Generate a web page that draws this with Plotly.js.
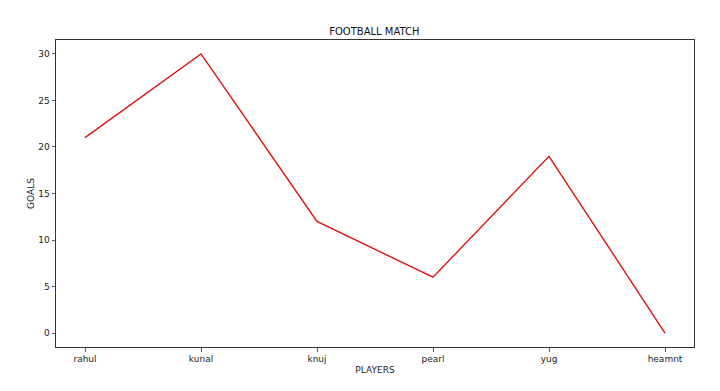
<!DOCTYPE html>
<html>
<head>
<meta charset="utf-8">
<script src="https://cdn.plot.ly/plotly-3.0.1.min.js"></script>
<style>html,body{margin:0;padding:0;background:#fff}#chart{width:720px;height:391px}</style>
</head>
<body>
<div id="chart"></div>
<script>
const players = ["rahul", "kunal", "knuj", "pearl", "yug", "heamnt"];
const goals = [21, 30, 12, 6, 19, 0];
const yTicks = [0, 5, 10, 15, 20, 25, 30];

const trace = {
  x: players.map((_, i) => i),
  y: goals,
  type: "scatter",
  mode: "lines",
  line: {color: "#e01010", width: 1.4},
  hoverinfo: "skip"
};

const axisCommon = {
  showgrid: false,
  zeroline: false,
  showline: true,
  linecolor: "#333",
  linewidth: 1,
  mirror: true,
  ticks: "outside",
  ticklen: 3.5,
  tickwidth: 0.8,
  tickcolor: "#333",
  tickfont: {family: "DejaVu Sans", size: 9, color: "#222"}
};

const layout = {
  width: 720,
  height: 391,
  margin: {l: 56, r: 26, t: 40, b: 44},
  paper_bgcolor: "#fff",
  plot_bgcolor: "#fff",
  showlegend: false,
  title: {
    text: "FOOTBALL MATCH",
    font: {family: "DejaVu Sans", size: 10, color: "#111"},
    x: 0.52, xanchor: "center",
    y: 1 - 31/391, yanchor: "middle"
  },
  xaxis: Object.assign({}, axisCommon, {
    range: [-0.25, 5.25],
    tickmode: "array",
    tickvals: players.map((_, i) => i),
    ticktext: players,
    title: {text: "PLAYERS", font: {family: "DejaVu Sans", size: 9, color: "#222"}, standoff: 3}
  }),
  yaxis: Object.assign({}, axisCommon, {
    range: [-1.5, 31.5],
    tickmode: "array",
    tickvals: yTicks,
    ticktext: yTicks.map(String),
    title: {text: "GOALS", font: {family: "DejaVu Sans", size: 9, color: "#222"}, standoff: 2}
  })
};

Plotly.newPlot("chart", [trace], layout, {staticPlot: true, displayModeBar: false});
</script>
</body>
</html>
